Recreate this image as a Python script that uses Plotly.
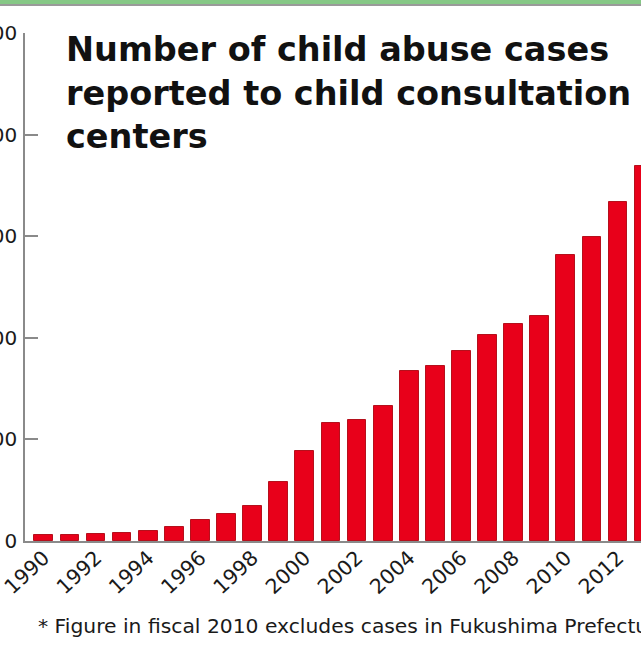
import plotly.graph_objects as go

years = list(range(1990, 2014))
cases = [1101, 1171, 1372, 1611, 1961, 2722, 4102, 5352, 6932, 11631,
         17725, 23274, 23738, 26569, 33408, 34472, 37323, 40639, 42664,
         44211, 56384, 59919, 66701, 73802]
tick_years = list(range(1990, 2015, 2))
y_ticks = [0, 20000, 40000, 60000, 80000, 100000]

title_text = "Number of child abuse cases<br>reported to child consultation<br>centers"
note_text = "* Figure in fiscal 2010 excludes cases in Fukushima Prefecture"

W, H = 641, 652
L, R, T, B = 25, 0, 33, 111
PH = H - T - B

def py(px):  # pixel y -> paper y
    return (H - B - px) / PH

def pxx(px):
    return (px - L) / (W - L - R)

FONT = "DejaVu Sans, Verdana, sans-serif"

fig = go.Figure(go.Bar(
    x=years, y=cases, width=0.72,
    marker=dict(color="#e8001a", line=dict(color="#b5101c", width=1)),
))

fig.update_layout(
    width=W, height=H,
    margin=dict(l=L, r=R, t=T, b=B, autoexpand=False),
    paper_bgcolor="white", plot_bgcolor="white",
    font=dict(family=FONT, color="#1a1a1a"),
    showlegend=False,
    bargap=0,
)
fig.update_xaxes(
    range=[1989.28, 2012.88], tickvals=tick_years,
    ticktext=[str(t) for t in tick_years], tickangle=-43,
    tickfont=dict(size=20.5, color="#1a1a1a", family=FONT), ticks="",
    showline=True, linecolor="#8a8a8a", linewidth=1.5,
    showgrid=False, zeroline=False, automargin=False,
    ticklabeloverflow="allow", ticklabelstandoff=-5,
)
fig.update_yaxes(
    range=[0, 100000], tickvals=y_ticks,
    ticktext=[str(t) for t in y_ticks],
    tickfont=dict(size=20, color="#1a1a1a", family=FONT),
    ticks="inside", ticklen=13, tickcolor="#8a8a8a", tickwidth=1.5,
    showline=True, linecolor="#8a8a8a", linewidth=1.5,
    showgrid=False, zeroline=False, automargin=False,
    ticklabelstandoff=2, ticklabeloverflow="allow",
)

fig.add_annotation(
    text=title_text, xref="paper", yref="paper",
    x=pxx(64), y=py(28), xanchor="left", yanchor="top",
    align="left", showarrow=False,
    font=dict(size=33.5, color="#111111", family=FONT, weight="bold"),
)
fig.add_annotation(
    text=note_text, xref="paper", yref="paper",
    x=pxx(36), y=py(626), xanchor="left", yanchor="middle",
    align="left", showarrow=False,
    font=dict(size=20.3, color="#1a1a1a", family=FONT),
)

# top border strip of the source screenshot
fig.add_shape(type="rect", xref="paper", yref="paper",
              x0=pxx(0), x1=pxx(W), y0=py(4), y1=py(0),
              fillcolor="#86c886", line=dict(width=0), layer="above")
fig.add_shape(type="line", xref="paper", yref="paper",
              x0=pxx(0), x1=pxx(W), y0=py(5), y1=py(5),
              line=dict(color="#9a9a9a", width=2))

fig.write_html("out.html", config={"displayModeBar": False},
               post_script="document.body.style.margin='0px';")
